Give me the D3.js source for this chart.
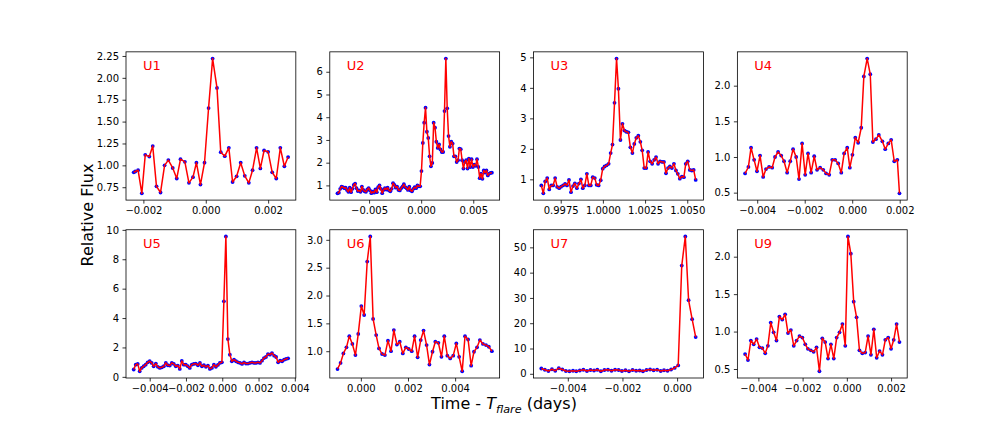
<!DOCTYPE html>
<html>
<head>
<meta charset="utf-8">
<script src="https://cdn.jsdelivr.net/npm/d3@7"></script>
<style>
  body { margin: 0; background: #fff; }
  svg { display: block; font-family: "DejaVu Sans", sans-serif; }
</style>
</head>
<body>
<svg id="chart" width="1008" height="432"></svg>
<script>
// light curves, time relative to flare peak (days) and relative flux
var u1Time = [-0.00231, -0.00226, -0.00217, -0.00205, -0.00194, -0.00181, -0.00170, -0.00158, -0.00145, -0.00132,
  -0.00120, -0.00106, -0.00093, -0.00081, -0.00067, -0.00054, -0.00041, -0.00030, -0.00017, -0.00004,
  0.00009, 0.00022, 0.00036, 0.00048, 0.00061, 0.00074, 0.00086, 0.00099, 0.00112, 0.00125,
  0.00138, 0.00150, 0.00163, 0.00175, 0.00187, 0.00200, 0.00213, 0.00226, 0.00239, 0.00252, 0.00264];
var u1Flux = [0.92, 0.93, 0.945, 0.68, 1.12, 1.10, 1.22, 0.76, 0.69, 1.00,
  1.06, 0.97, 0.85, 1.07, 1.04, 0.80, 0.865, 1.03, 0.78, 1.03,
  1.655, 2.22, 1.885, 1.15, 1.105, 1.20, 0.81, 0.875, 1.03, 0.88,
  0.80, 0.945, 1.20, 0.965, 1.17, 1.155, 0.92, 0.85, 1.20, 0.99, 1.095];

var u2Time = [-0.00803, -0.00790, -0.00777, -0.00764, -0.00751, -0.00738, -0.00725, -0.00712, -0.00699, -0.00686,
  -0.00673, -0.00660, -0.00647, -0.00634, -0.00621, -0.00608, -0.00595, -0.00582, -0.00569, -0.00556,
  -0.00543, -0.00530, -0.00517, -0.00504, -0.00491, -0.00478, -0.00465, -0.00452, -0.00439, -0.00426,
  -0.00413, -0.00400, -0.00387, -0.00374, -0.00361, -0.00348, -0.00335, -0.00322, -0.00309, -0.00296,
  -0.00283, -0.00270, -0.00257, -0.00244, -0.00231, -0.00218, -0.00205, -0.00192, -0.00179, -0.00166,
  -0.00153, -0.00140, -0.00127, -0.00114, -0.00101, -0.00088, -0.00075, -0.00062, -0.00049, -0.00036,
  -0.00023, -0.00010, 0.00003, 0.00016, 0.00029, 0.00042, 0.00055, 0.00068, 0.00081, 0.00094,
  0.00107, 0.00120, 0.00133, 0.00146, 0.00159, 0.00172, 0.00185, 0.00198, 0.00211, 0.00224,
  0.00237, 0.00250, 0.00263, 0.00276, 0.00289, 0.00302, 0.00315, 0.00328, 0.00341, 0.00354,
  0.00367, 0.00380, 0.00393, 0.00406, 0.00419, 0.00432, 0.00445, 0.00458, 0.00471, 0.00484,
  0.00497, 0.00510, 0.00523, 0.00536, 0.00549, 0.00562, 0.00575, 0.00588, 0.00601, 0.00614,
  0.00627, 0.00640, 0.00653, 0.00666, 0.00679];
var u2Flux = [0.65, 0.68, 0.85, 0.95, 0.92, 0.88, 0.90, 0.80, 0.72, 0.90,
  0.70, 0.85, 1.02, 1.08, 0.88, 0.75, 0.78, 0.72, 0.95, 0.80,
  0.74, 0.72, 0.82, 0.88, 0.78, 0.66, 0.72, 0.68, 0.82, 0.70,
  0.92, 1.00, 0.85, 0.66, 0.80, 0.88, 0.82, 0.90, 0.78, 0.74,
  0.85, 1.10, 1.02, 0.90, 0.95, 0.80, 0.78, 0.88, 0.95, 1.05,
  0.92, 0.88, 0.80, 0.94, 0.78, 0.74, 0.85, 0.92,
  0.88, 1.00, 0.96, 0.96, 1.63, 2.87, 3.76, 4.42, 3.36, 3.09,
  2.28, 1.84, 1.99, 3.76, 3.54, 2.92, 2.65, 2.80, 2.58, 2.47,
  2.47, 4.27, 6.58, 4.39, 3.17, 2.70, 2.92, 2.84, 2.28, 2.28,
  2.03, 2.11, 2.62, 2.59, 2.11, 1.74, 2.03, 2.11, 1.74, 2.18,
  1.81, 2.15, 1.81, 1.91, 1.86, 2.15, 1.81, 1.32, 1.52, 1.29,
  1.66, 1.56, 1.66, 1.44, 1.52, 1.55, 1.56];

var u3Time = [0.99635, 0.99647, 0.99658, 0.99670, 0.99682, 0.99694, 0.99705, 0.99717, 0.99729, 0.99741,
  0.99752, 0.99764, 0.99776, 0.99787, 0.99799, 0.99811, 0.99823, 0.99834, 0.99846, 0.99858,
  0.99870, 0.99881, 0.99893, 0.99905, 0.99917, 0.99928, 0.99940, 0.99952, 0.99963, 0.99975,
  0.99987, 0.99999, 1.00010, 1.00022, 1.00034, 1.00046, 1.00057, 1.00069, 1.00081, 1.00092,
  1.00104, 1.00116, 1.00128, 1.00139, 1.00151, 1.00163, 1.00175, 1.00186, 1.00198, 1.00210,
  1.00222, 1.00233, 1.00245, 1.00257, 1.00268, 1.00280, 1.00292, 1.00304, 1.00315, 1.00327,
  1.00339, 1.00351, 1.00362, 1.00374, 1.00386, 1.00397, 1.00409, 1.00421, 1.00433, 1.00444,
  1.00456, 1.00468, 1.00480, 1.00491, 1.00503, 1.00515, 1.00527, 1.00538, 1.00550];
var u3Flux = [0.80, 0.54, 0.93, 1.04, 0.67, 0.80, 0.80, 1.04, 0.75, 0.71,
  0.76, 0.80, 0.85, 0.80, 0.98, 0.58, 0.78, 0.87, 0.71, 0.86,
  1.00, 0.71, 0.80, 1.18, 0.80, 0.80, 1.07, 1.04, 0.82, 0.80,
  0.97, 1.35, 1.42, 1.46, 1.51, 1.86, 2.14, 3.51, 4.96, 3.97,
  2.29, 2.82, 2.60, 2.56, 2.54, 2.05, 1.86, 2.16, 2.36, 2.43,
  2.23, 1.95, 1.37, 1.37, 1.90, 1.59, 1.51, 1.64, 1.73, 1.51,
  1.59, 1.57, 1.57, 1.20, 1.37, 1.42, 1.37, 1.51, 1.29, 1.18,
  1.02, 1.09, 1.07, 1.51, 1.59, 1.31, 1.29, 1.31, 0.98];

var u4Time = [-0.00451, -0.00437, -0.00426, -0.00413, -0.00401, -0.00388, -0.00375, -0.00363, -0.00350, -0.00337,
  -0.00325, -0.00312, -0.00299, -0.00287, -0.00274, -0.00261, -0.00249, -0.00236, -0.00224, -0.00211,
  -0.00198, -0.00186, -0.00173, -0.00160, -0.00148, -0.00135, -0.00122, -0.00110, -0.00097, -0.00084,
  -0.00072, -0.00059, -0.00046, -0.00034, -0.00021, -0.00010, 0.00001, 0.00013, 0.00025, 0.00038,
  0.00049, 0.00063, 0.00076, 0.00087, 0.00100, 0.00112, 0.00127, 0.00139, 0.00152, 0.00164,
  0.00177, 0.00190, 0.00199];
var u4Flux = [0.77, 0.86, 1.13, 0.96, 0.80, 1.02, 0.72, 0.83, 0.86, 0.85,
  1.00, 1.07, 1.02, 0.94, 0.78, 0.94, 1.11, 1.00, 0.69, 1.19,
  0.75, 1.05, 0.78, 1.01, 0.82, 0.85, 0.82, 0.77, 0.75, 0.96,
  0.96, 0.91, 0.78, 1.05, 1.13, 0.85, 1.03, 1.27, 1.20, 1.41,
  2.13, 2.38, 2.16, 1.21, 1.25, 1.31, 1.22, 1.11, 1.19, 1.24,
  0.94, 0.96, 0.49];

var u5Time = [-0.00488, -0.00477, -0.00466, -0.00455, -0.00444, -0.00433, -0.00422, -0.00411, -0.00400, -0.00389,
  -0.00378, -0.00366, -0.00355, -0.00344, -0.00333, -0.00322, -0.00311, -0.00300, -0.00289, -0.00278,
  -0.00267, -0.00256, -0.00245, -0.00234, -0.00223, -0.00212, -0.00201, -0.00190, -0.00179, -0.00168,
  -0.00157, -0.00146, -0.00134, -0.00123, -0.00112, -0.00101, -0.00090, -0.00079, -0.00068, -0.00057,
  -0.00046, -0.00035, -0.00024, -0.00013, -0.00002, 0.00009, 0.00020, 0.00031, 0.00042, 0.00053,
  0.00065, 0.00076, 0.00087, 0.00098, 0.00109, 0.00120, 0.00131, 0.00142, 0.00153, 0.00164,
  0.00175, 0.00186, 0.00197, 0.00208, 0.00219, 0.00230, 0.00241, 0.00252, 0.00263, 0.00274,
  0.00286, 0.00297, 0.00308, 0.00319, 0.00330, 0.00341, 0.00352, 0.00363];
var u5Flux = [0.50, 0.83, 0.88, 0.38, 0.61, 0.72, 0.83, 0.99, 1.06, 0.95,
  0.72, 0.90, 0.68, 0.61, 0.65, 0.72, 0.95, 0.79, 0.77, 0.95,
  0.88, 0.72, 0.77, 0.54, 1.08, 0.83, 0.83, 0.72, 0.61, 0.83,
  0.88, 0.90, 0.79, 0.95, 0.72, 0.79, 0.68, 0.77, 0.54, 0.61,
  0.83, 0.68, 0.81, 0.95, 0.99, 5.14, 9.55, 2.57, 1.51, 1.06,
  1.17, 1.06, 0.99, 0.95, 0.88, 0.99, 0.90, 0.90, 0.95, 0.99,
  0.95, 0.95, 0.99, 0.95, 1.10, 1.28, 1.35, 1.55, 1.51, 1.62,
  1.44, 1.35, 0.99, 1.10, 1.06, 1.17, 1.22, 1.26];

var u6Time = [-0.00099, -0.00086, -0.00074, -0.00061, -0.00049, -0.00036, -0.00023, -0.00011, 0.00002, 0.00014,
  0.00027, 0.00040, 0.00052, 0.00065, 0.00077, 0.00090, 0.00102, 0.00115, 0.00128, 0.00140,
  0.00153, 0.00165, 0.00178, 0.00191, 0.00203, 0.00216, 0.00228, 0.00241, 0.00254, 0.00266,
  0.00279, 0.00291, 0.00304, 0.00316, 0.00329, 0.00342, 0.00354, 0.00367, 0.00379, 0.00392,
  0.00405, 0.00417, 0.00430, 0.00442, 0.00455, 0.00468, 0.00480, 0.00493, 0.00505, 0.00518,
  0.00531, 0.00543, 0.00556];
var u6Flux = [0.68, 0.79, 0.96, 1.07, 1.27, 1.13, 0.93, 1.31, 1.81, 1.65,
  2.61, 3.06, 1.58, 1.29, 1.05, 0.95, 0.93, 1.19, 1.00, 1.38,
  1.12, 1.17, 0.96, 1.07, 1.04, 1.00, 1.27, 0.89, 1.20, 1.37,
  1.11, 0.76, 0.99, 1.17, 1.15, 0.90, 1.27, 0.92, 0.87, 0.92,
  1.14, 0.90, 0.64, 1.27, 1.21, 0.74, 0.99, 1.07, 1.20, 1.13,
  1.11, 1.08, 1.00];

var u7Time = [-0.00497, -0.00484, -0.00471, -0.00458, -0.00446, -0.00433, -0.00420, -0.00407, -0.00394, -0.00381,
  -0.00369, -0.00356, -0.00343, -0.00330, -0.00317, -0.00304, -0.00292, -0.00279, -0.00266, -0.00253,
  -0.00240, -0.00227, -0.00214, -0.00202, -0.00189, -0.00176, -0.00163, -0.00150, -0.00137, -0.00125,
  -0.00112, -0.00099, -0.00086, -0.00073, -0.00060, -0.00048, -0.00035, -0.00022, -0.00009, 0.00004,
  0.00017, 0.00030, 0.00042, 0.00055, 0.00068];
var u7Flux = [2.1, 1.6, 1.1, 1.8, 1.2, 2.2, 1.7, 1.1, 1.0, 1.2,
  1.0, 1.3, 1.6, 1.1, 1.5, 1.3, 1.6, 1.0, 1.5, 1.6,
  1.2, 1.6, 1.5, 1.1, 1.4, 1.0, 1.5, 1.2, 1.3, 1.0,
  1.5, 1.7, 1.4, 1.6, 1.1, 1.4, 1.2, 1.7, 2.3, 3.3,
  42.8, 54.3, 29.1, 21.6, 14.5];

var u9Time = [-0.00460, -0.00447, -0.00434, -0.00421, -0.00408, -0.00395, -0.00382, -0.00369, -0.00357, -0.00344,
  -0.00331, -0.00318, -0.00305, -0.00292, -0.00279, -0.00266, -0.00253, -0.00240, -0.00227, -0.00214,
  -0.00201, -0.00188, -0.00176, -0.00163, -0.00150, -0.00137, -0.00124, -0.00111, -0.00098, -0.00085,
  -0.00072, -0.00059, -0.00046, -0.00033, -0.00020, -0.00007, 0.00005, 0.00018, 0.00031, 0.00044,
  0.00057, 0.00070, 0.00083, 0.00096, 0.00109, 0.00122, 0.00135, 0.00148, 0.00161, 0.00174,
  0.00187, 0.00200, 0.00212, 0.00225, 0.00238];
var u9Flux = [0.70, 0.62, 0.88, 0.83, 0.90, 0.79, 0.78, 0.71, 0.81, 1.12,
  0.99, 0.88, 1.20, 1.16, 1.23, 0.98, 1.02, 0.81, 0.88, 0.94,
  0.92, 0.83, 0.77, 0.75, 0.73, 0.79, 0.47, 0.91, 0.86, 0.64,
  0.83, 0.64, 0.92, 0.99, 1.10, 0.81, 2.27, 2.04, 1.40, 1.19,
  0.75, 0.71, 0.72, 0.94, 0.69, 1.03, 0.65, 0.74, 0.69, 0.89,
  0.92, 0.77, 0.89, 1.10, 0.86];

var panelNames = ['U1', 'U2', 'U3', 'U4', 'U5', 'U6', 'U7', 'U9'];
var panelTimes = [u1Time, u2Time, u3Time, u4Time, u5Time, u6Time, u7Time, u9Time];
var panelFluxes = [u1Flux, u2Flux, u3Flux, u4Flux, u5Flux, u6Flux, u7Flux, u9Flux];

var xTickValues = [
  [-0.002, 0, 0.002],
  [-0.005, 0, 0.005],
  [0.9975, 1.0, 1.0025, 1.005],
  [-0.004, -0.002, 0, 0.002],
  [-0.004, -0.002, 0, 0.002, 0.004],
  [0, 0.002, 0.004],
  [-0.004, -0.002, 0],
  [-0.004, -0.002, 0, 0.002]
];
var yTickValues = [
  [0.75, 1, 1.25, 1.5, 1.75, 2, 2.25],
  [1, 2, 3, 4, 5, 6],
  [1, 2, 3, 4, 5],
  [0.5, 1, 1.5, 2],
  [0, 2, 4, 6, 8, 10],
  [1, 1.5, 2, 2.5, 3],
  [0, 10, 20, 30, 40, 50],
  [0.5, 1, 1.5, 2]
];
var xTickFormats = ['.3f', '.3f', '.4f', '.3f', '.3f', '.3f', '.3f', '.3f'];
var yTickFormats = ['.2f', 'd', 'd', '.1f', 'd', '.1f', 'd', '.1f'];

// figure layout, matplotlib style subplot grid
var LEFT = 126, RIGHT = 907.2, TOP = 51.84, BOTTOM = 378;
var NCOLS = 4, NROWS = 2, WSPACE = 0.2, HSPACE = 0.2;
var cellW = (RIGHT - LEFT) / (NCOLS + (NCOLS - 1) * WSPACE);
var cellH = (BOTTOM - TOP) / (NROWS + (NROWS - 1) * HSPACE);

var svg = d3.select('#chart');

// matplotlib-like autoscale with 5% margins
function padded(values) {
  var ext = d3.extent(values);
  var m = (ext[1] - ext[0]) * 0.05;
  return [ext[0] - m, ext[1] + m];
}

panelNames.forEach(function (name, i) {
  var col = i % NCOLS, row = Math.floor(i / NCOLS);
  var x0 = LEFT + col * cellW * (1 + WSPACE);
  var y0 = TOP + row * cellH * (1 + HSPACE);

  var pts = panelTimes[i].map(function (t, k) { return [t, panelFluxes[i][k]]; });

  var x = d3.scaleLinear().domain(padded(panelTimes[i])).range([0, cellW]);
  var y = d3.scaleLinear().domain(padded(panelFluxes[i])).range([cellH, 0]);

  var g = svg.append('g').attr('transform', 'translate(' + x0 + ',' + y0 + ')');

  var xAxis = g.append('g')
      .attr('transform', 'translate(0,' + cellH + ')')
      .call(d3.axisBottom(x).tickValues(xTickValues[i])
        .tickFormat(d3.format(xTickFormats[i]))
        .tickSize(3.5).tickSizeOuter(0).tickPadding(3.5));

  var yAxis = g.append('g')
      .call(d3.axisLeft(y).tickValues(yTickValues[i])
        .tickFormat(d3.format(yTickFormats[i]))
        .tickSize(3.5).tickSizeOuter(0).tickPadding(3.5));

  [xAxis, yAxis].forEach(function (ax) {
    ax.attr('font-family', null).attr('font-size', null);
    ax.select('.domain').remove();
    ax.selectAll('line').attr('stroke', '#000').attr('stroke-width', 0.8);
    ax.selectAll('text').attr('fill', '#000').style('font-size', '10px');
  });

  // blue points first, red line drawn over them
  g.selectAll('circle')
      .data(pts)
      .enter().append('circle')
      .attr('cx', function (d) { return x(d[0]); })
      .attr('cy', function (d) { return y(d[1]); })
      .attr('r', 1.9)
      .attr('fill', '#0000ff');

  g.append('path')
      .datum(pts)
      .attr('fill', 'none')
      .attr('stroke', '#ff0000')
      .attr('stroke-width', 1.5)
      .attr('stroke-linejoin', 'round')
      .attr('d', d3.line().x(function (d) { return x(d[0]); }).y(function (d) { return y(d[1]); }));

  g.append('rect')
      .attr('width', cellW).attr('height', cellH)
      .attr('fill', 'none').attr('stroke', '#000').attr('stroke-width', 0.8);

  g.append('text')
      .attr('x', cellW * 0.1)
      .attr('y', cellH * 0.12)
      .attr('fill', '#ff0000')
      .style('font-size', '13px')
      .text(name);
});

svg.append('text')
    .attr('transform', 'translate(93,215) rotate(-90)')
    .attr('text-anchor', 'middle')
    .style('font-size', '16px')
    .attr('fill', '#000')
    .text('Relative Flux');

var xlabel = svg.append('text')
    .attr('x', 504).attr('y', 409)
    .attr('text-anchor', 'middle')
    .style('font-size', '16px')
    .attr('fill', '#000');
xlabel.append('tspan').text('Time - ');
xlabel.append('tspan').style('font-style', 'italic').text('T');
xlabel.append('tspan').style('font-style', 'italic').style('font-size', '11.2px').attr('dy', 3.5).text('flare');
xlabel.append('tspan').attr('dy', -3.5).text(' (days)');
</script>
</body>
</html>
